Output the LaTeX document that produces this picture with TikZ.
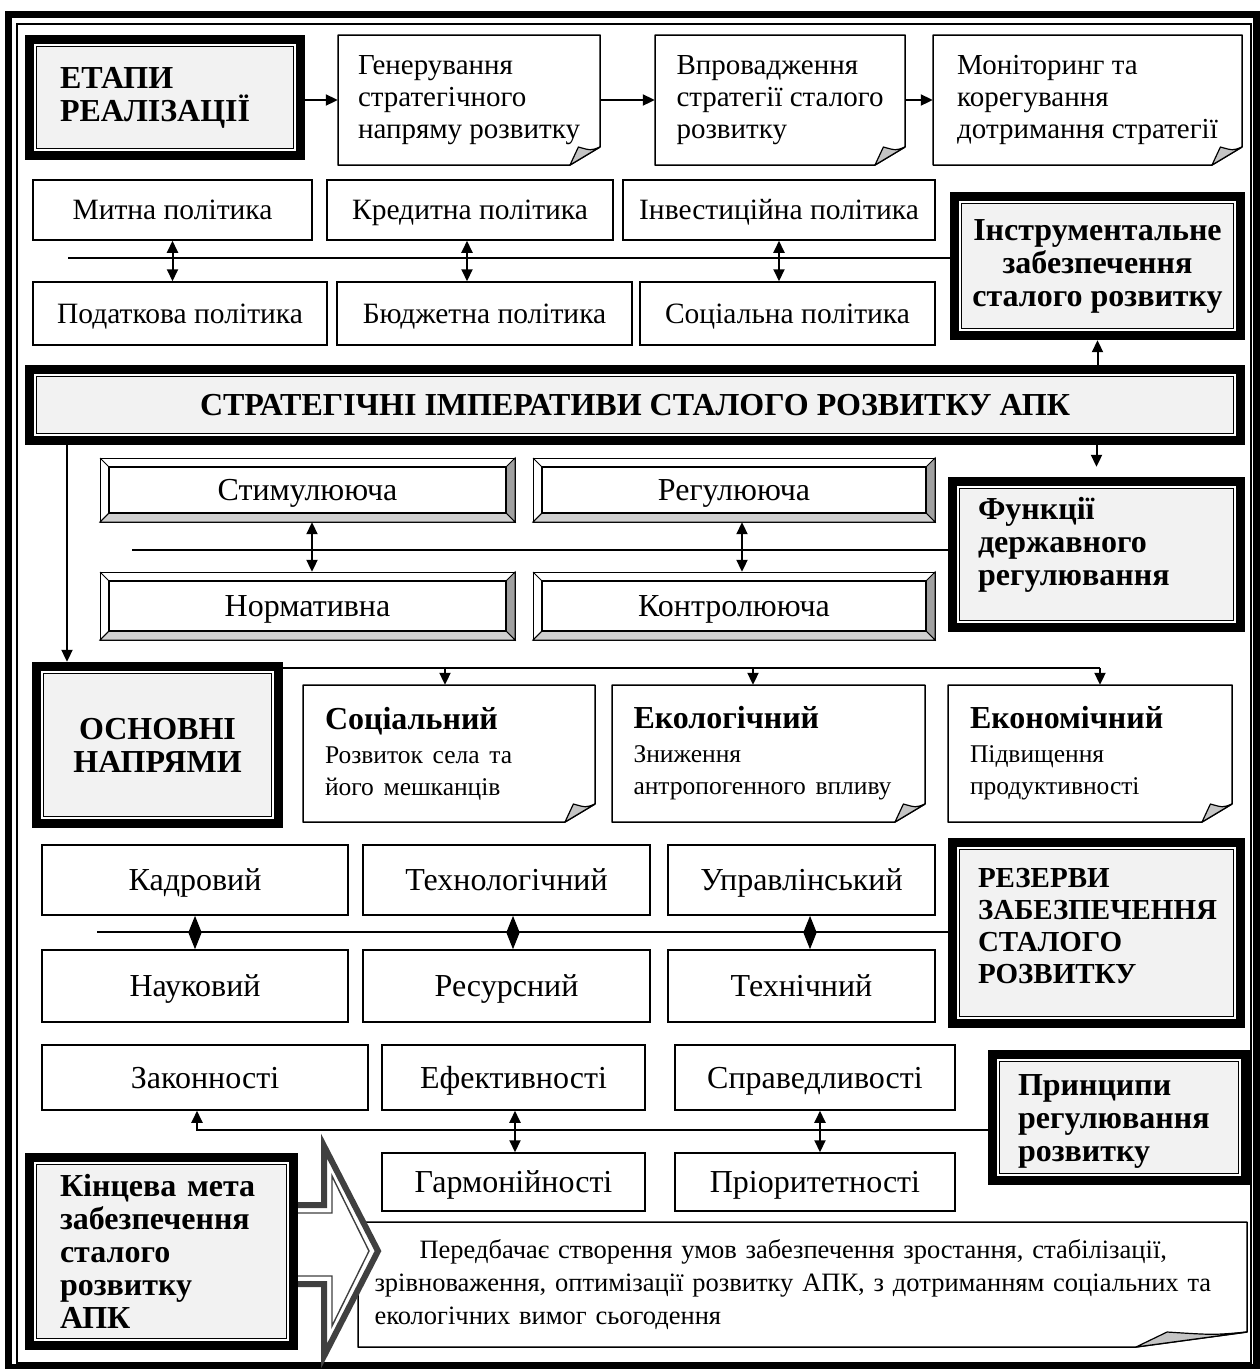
\documentclass[tikz,border=0pt]{standalone}
\usepackage{fontspec}
\setmainfont{Liberation Serif}
\usetikzlibrary{arrows.meta,calc}
\definecolor{boxgray}{HTML}{F2F2F2}
\definecolor{flapgray}{HTML}{C4C4C4}
\definecolor{bevR}{HTML}{A0A0A0}
\definecolor{bevB}{HTML}{D0D0D0}
\definecolor{arrgray}{HTML}{404040}
\tikzset{
  conn/.style={line width=2pt},
  arr/.style={conn,-{Triangle[length=12pt,width=11pt]}},
  dbl/.style={conn,{Triangle[length=12pt,width=11pt]}-{Triangle[length=12pt,width=11pt]}},
  dia/.style={conn,{Triangle[length=17pt,width=13pt]}-{Triangle[length=17pt,width=13pt]}},
  txt/.style={font=\fontsize{29}{32}\selectfont},
  ptxt/.style={font=\fontsize{29.5}{32}\selectfont,text height=19.5pt,text depth=0pt},
  qtxt/.style={font=\fontsize{32}{34}\selectfont,text height=21pt,text depth=0pt},
  btxt/.style={font=\fontsize{32}{33}\selectfont\bfseries},
  ltxt/.style={align=left,text width=#1},
}
% thick framed box: [opts]{name}{x1}{y1}{x2}{y2}{text}
\newcommand\tbox[7][]{%
  \fill[black] (#3,#4) rectangle (#5,#6);
  \fill[white] ({#3+9},{#4+9}) rectangle ({#5-9},{#6-9});
  \draw[line width=1.4pt,fill=boxgray] ({#3+11.5},{#4+11.5}) rectangle ({#5-11.5},{#6-11.5});
  \node[inner sep=0pt,minimum width={(#5-#3)*1pt},minimum height={(#6-#4)*1pt},btxt,#1] (#2) at ({(#3+#5)/2},{(#4+#6)/2}) {#7};}
% note box with folded corner: [opts]{name}{x1}{y1}{x2}{y2}{fw}{fh}{text}
\newcommand\nbox[9][]{%
  \draw[line width=1.5pt,fill=white,line join=round] (#3,#4) -- (#5,#4) -- (#5,{#6-#8}) -- ({#5-#7},#6) -- (#3,#6) -- cycle;
  \draw[line width=1.2pt,fill=flapgray,line join=round] ({#5-#7},#6) -- (#5,{#6-#8}) .. controls ({#5-0.3*#7},{#6-0.8*#8}) .. ({#5-0.72*#7},{#6-#8}) -- cycle;
  \node[inner sep=0pt,minimum width={(#5-#3)*1pt},minimum height={(#6-#4)*1pt},txt,#1] (#2) at ({(#3+#5)/2},{(#4+#6)/2}) {#9};}
% bevel box: {name}{x1}{y1}{x2}{y2}{text}
\newcommand\bbox[6]{%
  \draw[line width=1pt,fill=white] (#2,#3) rectangle (#4,#5);
  \draw[line width=1pt,fill=bevR] (#4,#3) -- (#4,#5) -- ({#4-9},{#5-9}) -- ({#4-9},{#3+9}) -- cycle;
  \draw[line width=1pt,fill=bevB] (#2,#5) -- (#4,#5) -- ({#4-9},{#5-9}) -- ({#2+9},{#5-9}) -- cycle;
  \draw[line width=1pt] (#2,#3) -- ({#2+9},{#3+9}) (#2,#5) -- ({#2+9},{#5-9});
  \draw[line width=1.6pt] ({#2+9},{#3+9}) rectangle ({#4-9},{#5-9});
  \node[inner sep=0pt,minimum width={(#4-#2)*1pt},minimum height={(#5-#3)*1pt},qtxt] (#1) at ({(#2+#4)/2},{(#3+#5)/2}) {#6};}
% plain box: [style]{name}{x1}{y1}{x2}{y2}{text}
\newcommand\pbox[7][ptxt]{%
  \node[draw,line width=1.5pt,inner sep=0pt,minimum width={(#5-#3)*1pt},minimum height={(#6-#4)*1pt},#1] (#2) at ({(#3+#5)/2},{(#4+#6)/2}) {#7};}

\begin{document}
\begin{tikzpicture}[x=1pt,y=-1pt]
\useasboundingbox (0,0) rectangle (1260,1369);
\fill[white] (0,0) rectangle (1260,1369);
% outer frame
\draw[line width=7pt] (8.5,14.5) rectangle (1256,1367);
\draw[line width=1.5pt] (17,24) rectangle (1251,1363);

% row 1
\tbox[ltxt=210pt]{etapy}{25}{35}{305}{160}{ЕТАПИ\\РЕАЛІЗАЦІЇ}
\nbox[align=left]{gen}{338}{35}{600}{165}{30}{18}{Генерування\\стратегічного\\напряму розвитку}
\nbox[align=left]{vpr}{655}{35}{905}{165}{30}{18}{Впровадження\\стратегії сталого\\розвитку}
\nbox[align=left]{mon}{933}{35}{1242}{165}{30}{18}{Моніторинг та\\корегування\\дотримання стратегії}
\coordinate (t1) at (0,100);
\draw[arr] (etapy.east |- t1) -- (gen.west |- t1);
\draw[arr] (gen.east |- t1) -- (vpr.west |- t1);
\draw[arr] (vpr.east |- t1) -- (mon.west |- t1);

% row 2 policies
\pbox{mytna}{33}{180}{312}{240}{Митна політика}
\pbox{kred}{327}{180}{613}{240}{Кредитна політика}
\pbox{inv}{623}{180}{935}{240}{Інвестиційна політика}
\pbox{podat}{33}{282}{327}{345}{Податкова політика}
\pbox{budg}{337}{282}{632}{345}{Бюджетна політика}
\pbox{socp}{640}{282}{935}{345}{Соціальна політика}
\tbox[align=center]{instr}{950}{192}{1245}{340}{Інструментальне\\забезпечення\\сталого розвитку}
\coordinate (polL) at (68,258);
\draw[conn] (polL) -- (polL -| instr.west);
\coordinate (q2) at (467,0);
\draw[dbl] (mytna.south) -- (mytna.south |- podat.north);
\draw[dbl] (kred.south -| q2) -- (budg.north -| q2);
\draw[dbl] (inv.south) -- (inv.south |- socp.north);

% strategic
\tbox[align=center]{strat}{25}{365}{1245}{445}{СТРАТЕГІЧНІ ІМПЕРАТИВИ СТАЛОГО РОЗВИТКУ АПК}
\draw[arr] (instr.south |- strat.north) -- (instr.south);

% functions
\bbox{stym}{100}{458}{515}{522}{Стимулююча}
\bbox{reg}{533}{458}{935}{522}{Регулююча}
\bbox{norm}{100}{572}{515}{640}{Нормативна}
\bbox{kontr}{533}{572}{935}{640}{Контролююча}
\tbox[ltxt=237pt,yshift=10pt]{func}{948}{477}{1245}{632}{Функції\\державного\\регулювання}
\draw[arr] (func.north |- strat.south) -- (func.north);
\coordinate (funL) at (132,550);
\draw[conn] (funL) -- (funL -| func.west);
\coordinate (f1) at (312,0);
\coordinate (f2) at (742,0);
\draw[dbl] (stym.south -| f1) -- (norm.north -| f1);
\draw[dbl] (reg.south -| f2) -- (kontr.north -| f2);

% directions
\tbox[align=center]{osn}{32}{662}{283}{828}{ОСНОВНІ\\НАПРЯМИ}
\coordinate (sl) at (67,445);
\draw[arr] (sl) -- (sl |- osn.north);
\nbox[ltxt=248pt]{soc}{303}{685}{595}{822}{30}{18}{{\bfseries\fontsize{32}{34}\selectfont Соціальний}\\[1pt]{\fontsize{25.5}{33}\selectfont Розвиток села та\\його мешканців}}
\nbox[ltxt=270pt]{ekol}{612}{685}{925}{822}{30}{18}{{\bfseries\fontsize{32}{34}\selectfont Екологічний}\\[1pt]{\fontsize{25.5}{33}\selectfont Зниження\\антропогенного впливу}}
\nbox[ltxt=240pt]{ekon}{948}{685}{1232}{822}{30}{18}{{\bfseries\fontsize{32}{34}\selectfont Економічний}\\[1pt]{\fontsize{25.5}{33}\selectfont Підвищення\\продуктивності}}
\coordinate (dl) at (283,668);
\coordinate (d1) at (445,0);
\coordinate (d2) at (753,0);
\coordinate (d3) at (1100,0);
\draw[conn] (dl) -- (dl -| d3);
\draw[arr] (dl -| d1) -- (soc.north -| d1);
\draw[arr] (dl -| d2) -- (ekol.north -| d2);
\draw[arr] (dl -| d3) -- (ekon.north -| d3);

% reserves
\pbox[qtxt]{kadr}{42}{845}{348}{915}{Кадровий}
\pbox[qtxt]{tekhn}{363}{845}{650}{915}{Технологічний}
\pbox[qtxt]{upr}{668}{845}{935}{915}{Управлінський}
\pbox[qtxt]{nauk}{42}{950}{348}{1022}{Науковий}
\pbox[qtxt]{res}{363}{950}{650}{1022}{Ресурсний}
\pbox[qtxt]{tekh}{668}{950}{935}{1022}{Технічний}
\tbox[ltxt=237pt,yshift=7pt,font=\fontsize{29}{32}\selectfont\bfseries]{rez}{948}{838}{1245}{1028}{РЕЗЕРВИ\\ЗАБЕЗПЕЧЕННЯ\\СТАЛОГО\\РОЗВИТКУ}
\coordinate (rl) at (97,932);
\draw[conn] (rl) -- (rl -| rez.west);
\coordinate (r1) at (195,0);
\coordinate (r2) at (513,0);
\coordinate (r3) at (810,0);
\draw[dia] (kadr.south -| r1) -- (nauk.north -| r1);
\draw[dia] (tekhn.south -| r2) -- (res.north -| r2);
\draw[dia] (upr.south -| r3) -- (tekh.north -| r3);

% principles
\pbox[qtxt]{zak}{42}{1045}{368}{1110}{Законності}
\pbox[qtxt]{ef}{382}{1045}{645}{1110}{Ефективності}
\pbox[qtxt]{spr}{675}{1045}{955}{1110}{Справедливості}
\pbox[qtxt]{garm}{382}{1153}{645}{1211}{Гармонійності}
\pbox[qtxt]{prior}{675}{1153}{955}{1211}{Пріоритетності}
\tbox[ltxt=202pt,yshift=-4pt]{prin}{988}{1050}{1250}{1185}{Принципи\\регулювання\\розвитку}
\coordinate (pl) at (197,1130);
\draw[arr] (pl -| prin.west) -- (pl) -- (pl |- zak.south);
\coordinate (p1) at (515,0);
\coordinate (p2) at (820,0);
\draw[dbl] (ef.south -| p1) -- (garm.north -| p1);
\draw[dbl] (spr.south -| p2) -- (prior.north -| p2);

% final goal
\nbox[ltxt=850pt,xshift=-3pt,font=\fontsize{26.5}{33}\selectfont]{pered}{358}{1222}{1247}{1347}{111}{15}{\hspace*{45pt}Передбачає створення умов забезпечення зростання, стабілізації,\\зрівноваження, оптимізації розвитку АПК, з дотриманням соціальних та\\екологічних вимог сьогодення}
\tbox[ltxt=203pt]{kinc}{25}{1153}{298}{1350}{Кінцева мета\\забезпечення\\сталого\\розвитку\\АПК}
% big hollow arrow
\coordinate (ba) at (kinc.east |- 0,1205);
\coordinate (bb) at (kinc.east |- 0,1284);
\coordinate (bc) at (kinc.east |- 0,1213);
\coordinate (bd) at (kinc.east |- 0,1276);
\fill[white] (ba) -- (324,1205) -- (324,1146) -- (378,1251) -- (324,1356) -- (324,1284) -- (bb) -- cycle;
\draw[arrgray,line width=6pt,line join=miter] (ba) -- (324,1205) -- (324,1146) -- (378,1251) -- (324,1356) -- (324,1284) -- (bb);
\draw[arrgray,line width=1.4pt,line join=miter] (bc) -- (332,1213) -- (332,1176) -- (369,1251) -- (332,1326) -- (332,1276) -- (bd);
\end{tikzpicture}
\end{document}
